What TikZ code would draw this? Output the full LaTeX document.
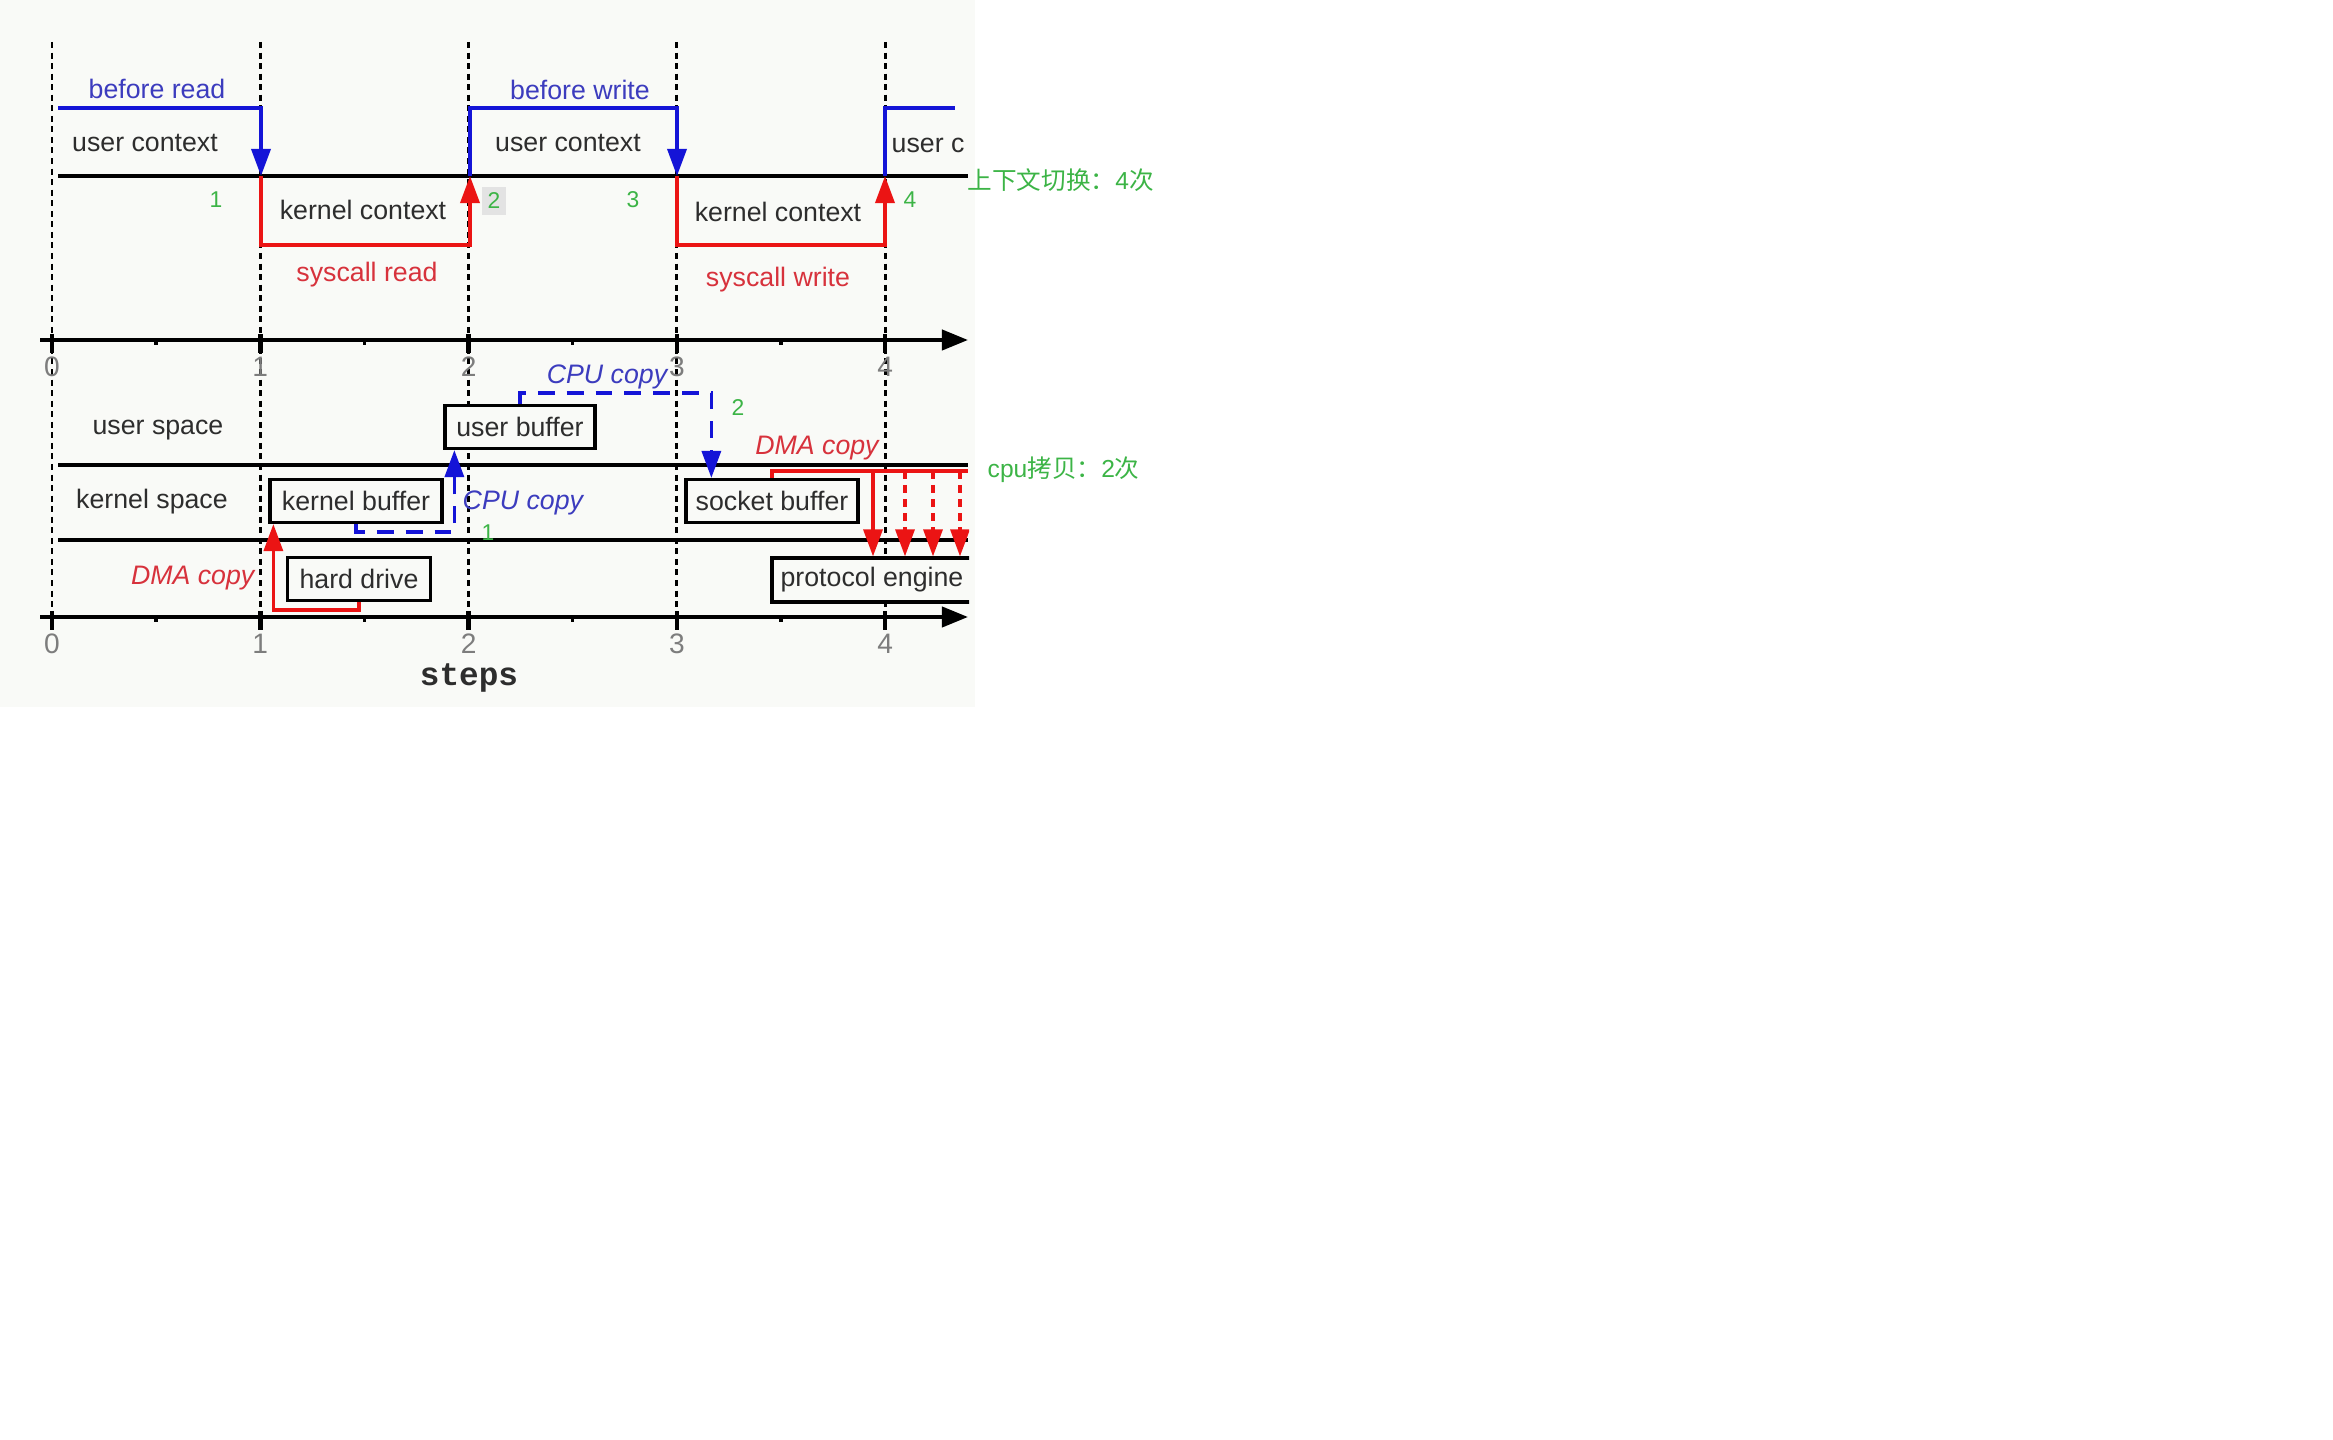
\documentclass[tikz,border=0pt]{standalone}
\usepackage{fontspec}
\setmainfont{Liberation Sans}
\setmonofont{Liberation Mono}
\newfontfamily\cjk{Noto Sans CJK SC}
\usepackage{tikz}
\usetikzlibrary{arrows.meta,calc}

\definecolor{bgpaper}{RGB}{249,250,247}
\definecolor{darktxt}{RGB}{45,45,45}
\definecolor{ticgray}{RGB}{125,125,125}
\definecolor{ctxblue}{RGB}{20,20,215}
\definecolor{ctxred}{RGB}{235,20,20}
\definecolor{txtblue}{RGB}{60,60,190}
\definecolor{txtred}{RGB}{215,50,60}
\definecolor{numgreen}{RGB}{60,180,70}

\begin{document}
\begin{tikzpicture}[x=0.01cm,y=-0.01cm,
  lbltxt/.style={font=\fontsize{7.6}{9}\selectfont,text=darktxt,inner sep=0pt},
  ittxt/.style={font=\fontsize{7.6}{9}\selectfont\itshape,inner sep=0pt},
  num/.style={font=\fontsize{6.5}{8}\selectfont,text=numgreen,inner sep=0pt},
  cn/.style={font=\fontsize{7}{8}\selectfont,text=numgreen,inner sep=0pt,anchor=west},
  buf/.style={lbltxt,draw=black,fill=bgpaper,line width=0.9pt,minimum height=0.43cm},
  bigtip/.style={-{Triangle[width=0.19cm,length=0.27cm]}},
  sep/.style={line width=0.95pt},
  axisline/.style={line width=1.15pt,-{Triangle[width=0.2cm,length=0.26cm]}},
  stepline/.style={line width=0.85pt,dash pattern=on 1.7pt off 1.3pt},
  ctxb/.style={ctxblue,line width=1pt},
  ctxr/.style={ctxred,line width=1pt},
  cpuline/.style={ctxblue,line width=0.95pt,dash pattern=on 4.8pt off 3.4pt},
  dmaline/.style={ctxred,line width=0.95pt},
  dmadash/.style={dash pattern=on 2.2pt off 1.8pt}]
  \useasboundingbox (0,0) rectangle (2333,1440);
  \fill[bgpaper] (0,0) rectangle (975,707);

  \begin{scope}
  \clip (0,0) rectangle (969,707);
  % steps 0..4
  \foreach \i in {0,...,4}
    \draw[stepline] ({52+208.3*\i},42) -- ({52+208.3*\i},617);
  \foreach \y/\n in {340/tu,617/tl} {
    \draw[axisline] (40,\y) -- (968,\y);
    \foreach \i in {0,...,4} {
      \draw[line width=1.3pt] ({52+208.3*\i},{\y-6}) -- ({52+208.3*\i},{\y+13});
      \node[font=\fontsize{8}{10}\selectfont,text=ticgray,inner sep=0pt] (\n\i) at ({52+208.3*\i},{\y+27}) {\i};
    }
    \foreach \i in {0,...,3}
      \draw[line width=1pt] ({156+208.3*\i},\y) -- ({156+208.3*\i},{\y+5});
  }
  \draw[sep] (58,176) -- (968,176);
  \draw[sep] (58,465) -- (968,465);
  \draw[sep] (58,540) -- (968,540);

  % context switches
  \draw[ctxb,bigtip] (58,108) -- (261,108) -- (261,176);
  \draw[ctxr,bigtip] (261,176) -- (261,245) -- (470,245) -- (470,176);
  \draw[ctxb,bigtip] (470,176) -- (470,108) -- (677,108) -- (677,176);
  \draw[ctxr,bigtip] (677,176) -- (677,245) -- (885,245) -- (885,176);
  \draw[ctxb] (885,176) -- (885,108) -- (955,108);

  \node[lbltxt,text=txtblue] (bread) at (157,89) {before read};
  \node[lbltxt,text=txtblue] (bwrite) at (580,90) {before write};
  \node[lbltxt] (uctx1) at (145,143) {user context};
  \node[lbltxt] (uctx2) at (568,143) {user context};
  \node[lbltxt,anchor=west] (uctx3) at (891,145) {user c};
  \node[lbltxt] (kctx1) at (363,210) {kernel context};
  \node[lbltxt] (kctx2) at (778,212) {kernel context};
  \node[lbltxt,text=txtred] (sread) at (367,275) {syscall read};
  \node[lbltxt,text=txtred] (swrite) at (778,280) {syscall write};
  \node[num] (n1) at (216,200) {1};
  \node[num,fill=gray!22,inner xsep=1.5pt,minimum height=0.27cm] (n2) at (494,201) {2};
  \node[num] (n3) at (633,200) {3};
  \node[num] (n4) at (910,200) {4};

  % buffers
  \node[lbltxt] (uspace) at (158,430) {user space};
  \node[lbltxt] (kspace) at (152,502) {kernel space};
  \node[buf,minimum width=1.72cm] (kbuf) at (356,501) {kernel buffer};
  \node[buf,minimum width=1.43cm] (hdrive) at (359,579) {hard drive};
  \node[buf,minimum width=1.50cm] (ubuf) at (520,427) {user buffer};
  \node[buf,minimum width=1.72cm] (sbuf) at (772,501) {socket buffer};
  \node[buf,minimum width=2.00cm,minimum height=0.44cm] (peng) at (872,580) {protocol engine};

  \draw[dmaline,bigtip] (hdrive.south) -- ++(0,8) -| ($(kbuf.south west)+(5,0)$);
  \draw[cpuline,bigtip] (kbuf.south) -- ++(0,8) -| ($(ubuf.south west)+(11,0)$);
  \draw[cpuline,bigtip] (ubuf.north) -- ++(0,-11) -| ($(sbuf.north west)+(27,0)$);
  \coordinate (dtop) at ($(sbuf.north)+(0,-7)$);
  \draw[dmaline] (sbuf.north) -- (dtop) -- ++(196,0);
  \foreach \dx/\pat in {101/solid,133/dmadash,161/dmadash,188/dmadash} {
    \path ($(dtop)+(\dx,0)$) coordinate (t);
    \draw[dmaline,\pat,bigtip] (t) -- (t |- peng.north);
  }

  \node[ittxt,text=txtred,anchor=east] (dma1) at (255,578) {DMA copy};
  \node[ittxt,text=txtred] (dma2) at (817,448) {DMA copy};
  \node[ittxt,text=txtblue,anchor=west] (cpu1) at (462,503) {CPU copy};
  \node[ittxt,text=txtblue] (cpu2) at (607,377) {CPU copy};
  \node[num] (c1) at (488,533) {1};
  \node[num] (c2) at (738,408) {2};
  \end{scope}

  \node[font=\ttfamily\bfseries\fontsize{9.3}{11}\selectfont,text=darktxt,inner sep=0pt] (steps) at (469,678) {steps};
  \node[cn] (ctxcount) at (967,180) {{\cjk 上下文切换：}4{\cjk 次}};
  \node[cn] (cpucount) at (987,470) {cpu{\cjk 拷贝：}2{\cjk 次}};
\end{tikzpicture}
\end{document}
